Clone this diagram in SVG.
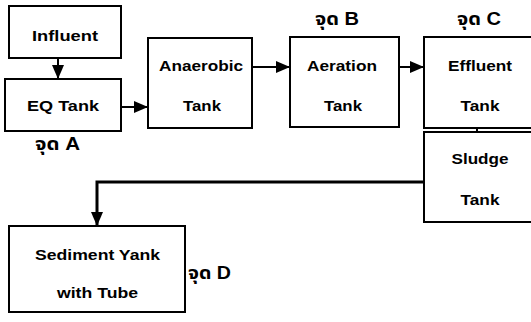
<svg xmlns="http://www.w3.org/2000/svg" width="531" height="322" viewBox="0 0 531 322">
<style>
.box{fill:#fff;stroke:#000;stroke-width:2}
.t{font-family:"Liberation Sans",Arial,sans-serif;font-weight:bold;font-size:15.5px;text-anchor:middle;fill:#000}
.th{font-family:"Liberation Sans","Noto Sans Thai","Noto Sans",sans-serif;font-weight:bold;font-size:17.5px;fill:#000}
.c{fill:none;stroke:#000;stroke-width:2}
</style>
<defs>
<marker id="ah" markerUnits="userSpaceOnUse" markerWidth="14" markerHeight="12" refX="14" refY="6" orient="auto">
<path d="M0,0 L14,6 L0,12 Z" fill="#000"/>
</marker>
</defs>
<rect width="531" height="322" fill="#fff"/>
<g id="connectors">
<line class="c" x1="58" y1="58" x2="58" y2="79" marker-end="url(#ah)"/>
<line class="c" x1="121" y1="107" x2="148" y2="107" marker-end="url(#ah)"/>
<line class="c" x1="252" y1="67" x2="290" y2="67" marker-end="url(#ah)"/>
<line class="c" x1="399" y1="67" x2="424" y2="67" marker-end="url(#ah)"/>
<line class="c" x1="477" y1="128" x2="477" y2="132"/>
<path d="M424,182 H97 V226" fill="none" stroke="#000" stroke-width="3" marker-end="url(#ah)"/>
</g>
<g id="influent">
<rect class="box" x="9" y="6" width="112" height="52"/>
<text class="t" x="65" y="41" textLength="66" lengthAdjust="spacingAndGlyphs">Influent</text>
</g>
<g id="eq-tank">
<rect class="box" x="5" y="79" width="116" height="52"/>
<text class="t" x="63" y="111" textLength="72" lengthAdjust="spacingAndGlyphs">EQ Tank</text>
</g>
<g id="anaerobic-tank">
<rect class="box" x="148" y="38" width="104" height="90"/>
<text class="t" x="201" y="71" textLength="84" lengthAdjust="spacingAndGlyphs">Anaerobic</text>
<text class="t" x="202" y="111" textLength="38" lengthAdjust="spacingAndGlyphs">Tank</text>
</g>
<g id="aeration-tank">
<rect class="box" x="290" y="37" width="109" height="90"/>
<text class="t" x="342" y="71" textLength="70" lengthAdjust="spacingAndGlyphs">Aeration</text>
<text class="t" x="343" y="111" textLength="38" lengthAdjust="spacingAndGlyphs">Tank</text>
</g>
<g id="effluent-tank">
<rect class="box" x="424" y="37" width="120" height="91"/>
<text class="t" x="480" y="71" textLength="64" lengthAdjust="spacingAndGlyphs">Effluent</text>
<text class="t" x="480" y="111" textLength="39" lengthAdjust="spacingAndGlyphs">Tank</text>
</g>
<g id="sludge-tank">
<rect class="box" x="424" y="132" width="120" height="90"/>
<text class="t" x="480" y="164" textLength="57" lengthAdjust="spacingAndGlyphs">Sludge</text>
<text class="t" x="480" y="205" textLength="39" lengthAdjust="spacingAndGlyphs">Tank</text>
</g>
<g id="sediment-tank">
<rect class="box" x="9" y="226" width="176" height="86"/>
<text class="t" x="97.5" y="260" textLength="125" lengthAdjust="spacingAndGlyphs">Sediment Yank</text>
<text class="t" x="97.5" y="298" textLength="81" lengthAdjust="spacingAndGlyphs">with Tube</text>
</g>
<g id="labels">
<text class="th" x="35" y="150" textLength="45" lengthAdjust="spacingAndGlyphs">จุด A</text>
<text class="th" x="315" y="25" textLength="44" lengthAdjust="spacingAndGlyphs">จุด B</text>
<text class="th" x="457" y="25" textLength="44" lengthAdjust="spacingAndGlyphs">จุด C</text>
<text class="th" x="188" y="279" textLength="43" lengthAdjust="spacingAndGlyphs">จุด D</text>
</g>
</svg>
